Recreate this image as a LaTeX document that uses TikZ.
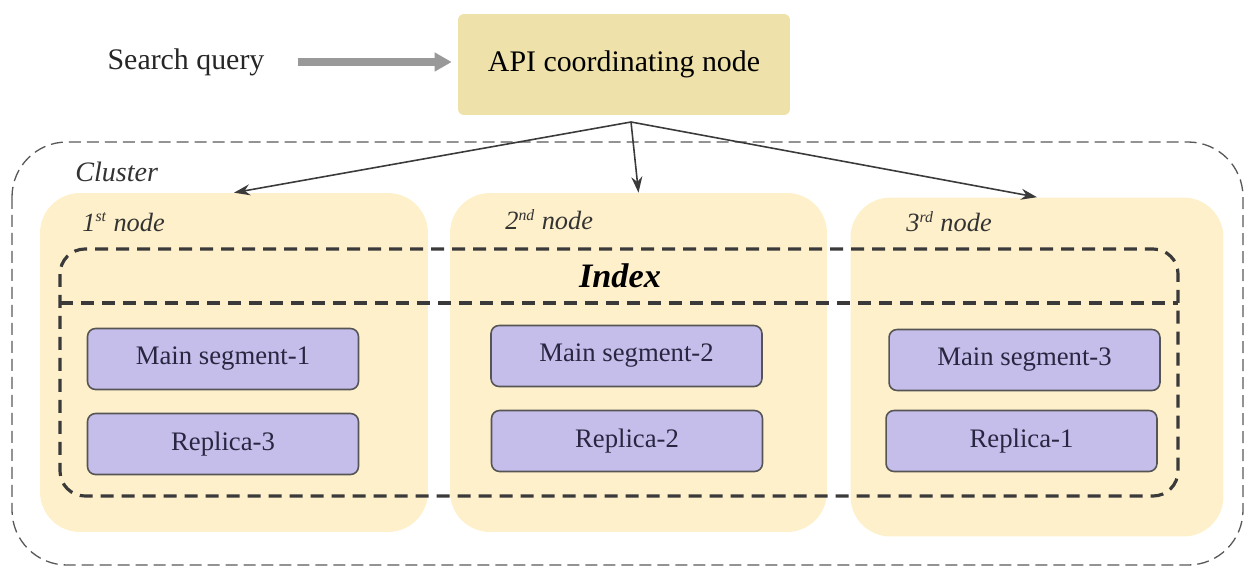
\documentclass[tikz,border=0pt]{standalone}
\usepackage{fontspec}
\setmainfont{Liberation Serif}
\usetikzlibrary{arrows.meta}
\definecolor{apifill}{RGB}{238,226,170}
\definecolor{hostfill}{RGB}{254,240,202}
\definecolor{segfill}{RGB}{197,190,235}
\definecolor{segline}{RGB}{85,85,85}
\definecolor{segtext}{RGB}{40,38,64}
\definecolor{darkline}{RGB}{58,58,58}
\newcommand{\ordsup}[1]{\textsuperscript{\fontsize{9}{10}\selectfont #1}}

\begin{document}
\begin{tikzpicture}[x=0.02cm,y=-0.02cm,
    every node/.style={inner sep=0pt},
    apibox/.style={fill=apifill,rounded corners=0.12cm,minimum width=6.64cm,minimum height=2.02cm,font=\fontsize{17}{20}\selectfont},
    hostbox/.style={fill=hostfill,rounded corners=0.8cm,minimum height=6.78cm},
    hostlabel/.style={anchor=west,text=black!80,font=\itshape\fontsize{15}{18}\selectfont},
    segbox/.style={fill=segfill,draw=segline,line width=0.9pt,rounded corners=0.16cm,minimum width=5.42cm,minimum height=1.22cm,text=segtext,font=\fontsize{15.2}{17}\selectfont},
    indexline/.style={draw=darkline,line width=1.8pt,dash pattern=on 0.26cm off 0.16cm,rounded corners=0.5cm},
    link/.style={-{Stealth[length=0.32cm,width=0.22cm]},draw=darkline,line width=0.9pt}]

	\useasboundingbox (0,0) rectangle (1246,568);
	
	% query goes into the coordinating node
	\node[font=\fontsize{17}{20}\selectfont,text=black!85] (query) at (186,62) {Search query};
	\node[apibox] (api) at (624,64.5) {API coordinating node};
	\draw[-{Triangle[length=0.34cm,width=0.36cm]},line width=0.16cm,draw=black!40,shorten <=0.66cm,shorten >=0.12cm] (query.east) -- (query.east -| api.west);
	\coordinate (fork) at (631,122);
	
	% cluster frame
	\draw[draw=black!65,line width=0.75pt,dash pattern=on 0.24cm off 0.12cm,rounded corners=1.1cm] (12,142) rectangle (1243,565);
	\node[hostlabel,font=\itshape\fontsize{16}{18}\selectfont] (clusterlabel) at (75,172) {Cluster};
	
	% the three hosts
	\node[hostbox,minimum width=7.76cm] (host1) at (234,362.5) {};
	\node[hostbox,minimum width=7.54cm] (host2) at (638.5,362.5) {};
	\node[hostbox,minimum width=7.46cm] (host3) at (1037,367) {};
	\node[hostlabel] (hostlabel1) at (82,222) {1\ordsup{st} node};
	\node[hostlabel] (hostlabel2) at (505,220) {2\ordsup{nd} node};
	\node[hostlabel] (hostlabel3) at (906,222) {3\ordsup{rd} node};
	
	% index spanning the hosts
	\draw[indexline] (60,249) rectangle (1178,496);
	\draw[indexline] (60,303) -- (1178,303);
	\node[font=\bfseries\itshape\fontsize{19.5}{22}\selectfont] (index) at (620,276) {Index};
	
	% segments and replicas
	\node[segbox] (main1) at (223,359) {Main segment-1};
	\node[segbox] (rep3) at (223,444) {Replica-3};
	\node[segbox] (main2) at (626.5,356) {Main segment-2};
	\node[segbox] (rep2) at (627,441) {Replica-2};
	\node[segbox] (main3) at (1024.5,360) {Main segment-3};
	\node[segbox] (rep1) at (1021.5,441) {Replica-1};
	
	\foreach \h in {1,2,3}
	{
		\draw[link] (fork) -- (host\h.north);
	}
\end{tikzpicture}
\end{document}
